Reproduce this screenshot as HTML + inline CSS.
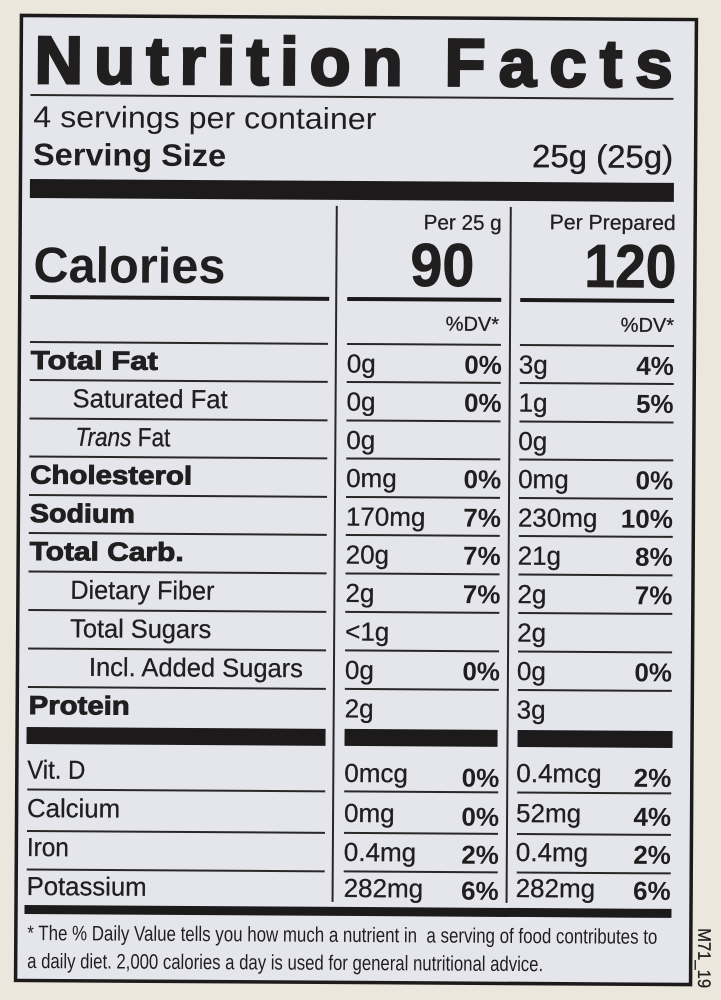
<!DOCTYPE html>
<html>
<head>
<meta charset="utf-8">
<style>
html,body{margin:0;padding:0;background:#ebe7dd;}
svg{display:block;}
text{font-family:"Liberation Sans",Arial,sans-serif;fill:#211e1f;}
.b{font-weight:bold;}
.hv{font-weight:bold;stroke:#211e1f;stroke-width:0.9;}
.v{font-size:26px;stroke:#211e1f;stroke-width:0.3;}
.p{font-size:26px;font-weight:bold;}
.l{font-size:26px;stroke:#211e1f;stroke-width:0.3;}
</style>
</head>
<body>
<svg width="721" height="1000" viewBox="0 0 721 1000" xmlns="http://www.w3.org/2000/svg">
<rect x="0" y="0" width="721" height="1000" fill="#ebe7dd"/>
<g transform="rotate(0.35 356 500)">
  <!-- label box -->
  <rect x="18.5" y="17.5" width="675" height="965" fill="#e5e5ec" stroke="#1c1a1b" stroke-width="3.5"/>

  <!-- title -->
  <text x="32" y="85" font-size="67" class="b" stroke="#211e1f" stroke-width="2.6" textLength="368" lengthAdjust="spacing">Nutrition</text>
  <text x="442" y="85" font-size="67" class="b" stroke="#211e1f" stroke-width="2.6" textLength="228" lengthAdjust="spacing">Facts</text>
  <rect x="28" y="96" width="643" height="2" fill="#2a2728"/>

  <text x="31" y="129" font-size="30" textLength="343" lengthAdjust="spacingAndGlyphs">4 servings per container</text>
  <text x="31" y="167" font-size="31" class="b" textLength="193" lengthAdjust="spacingAndGlyphs">Serving Size</text>
  <text x="530" y="166" font-size="32" stroke="#211e1f" stroke-width="0.4" textLength="141" lengthAdjust="spacingAndGlyphs">25g (25g)</text>

  <rect x="28" y="181" width="644" height="19" fill="#1c1a1b"/>

  <!-- vertical dividers -->
  <rect x="334" y="206" width="2" height="696" fill="#2a2728"/>
  <rect x="508" y="206" width="2" height="696" fill="#2a2728"/>

  <!-- calories -->
  <text x="32" y="284" font-size="50" class="b" textLength="192" lengthAdjust="spacingAndGlyphs">Calories</text>
  <text x="422" y="229" font-size="21" stroke="#211e1f" stroke-width="0.3" textLength="78" lengthAdjust="spacingAndGlyphs">Per 25 g</text>
  <text x="548" y="228" font-size="21" stroke="#211e1f" stroke-width="0.3" textLength="126" lengthAdjust="spacingAndGlyphs">Per Prepared</text>
  <text x="409" y="285.5" font-size="61" class="b" stroke="#211e1f" stroke-width="0.8" textLength="64" lengthAdjust="spacingAndGlyphs">90</text>
  <text x="583" y="285.5" font-size="61" class="b" stroke="#211e1f" stroke-width="0.8" textLength="92" lengthAdjust="spacingAndGlyphs">120</text>
  <rect x="29" y="297" width="299" height="4" fill="#1c1a1b"/>
  <rect x="346" y="297" width="154" height="4" fill="#1c1a1b"/>
  <rect x="519" y="297" width="154" height="4" fill="#1c1a1b"/>

  <text x="498" y="330" font-size="20" text-anchor="end" stroke="#211e1f" stroke-width="0.3">%DV*</text>
  <text x="673" y="330" font-size="20" text-anchor="end" stroke="#211e1f" stroke-width="0.3">%DV*</text>

  <!-- row lines -->
  <g fill="#2a2728">
    <rect x="29" y="343" width="298" height="2"/><rect x="346" y="343" width="154" height="2"/><rect x="519" y="343" width="154" height="2"/>
    <rect x="29" y="381" width="298" height="2"/><rect x="346" y="381" width="154" height="2"/><rect x="519" y="381" width="154" height="2"/>
    <rect x="29" y="419.5" width="298" height="2"/><rect x="346" y="419.5" width="154" height="2"/><rect x="519" y="419.5" width="154" height="2"/>
    <rect x="29" y="457.5" width="298" height="2"/><rect x="346" y="457.5" width="154" height="2"/><rect x="519" y="457.5" width="154" height="2"/>
    <rect x="29" y="496" width="298" height="2"/><rect x="346" y="496" width="154" height="2"/><rect x="519" y="496" width="154" height="2"/>
    <rect x="29" y="534" width="298" height="2"/><rect x="346" y="534" width="154" height="2"/><rect x="519" y="534" width="154" height="2"/>
    <rect x="29" y="572.5" width="298" height="2"/><rect x="346" y="572.5" width="154" height="2"/><rect x="519" y="572.5" width="154" height="2"/>
    <rect x="29" y="611" width="298" height="2"/><rect x="346" y="611" width="154" height="2"/><rect x="519" y="611" width="154" height="2"/>
    <rect x="29" y="649.5" width="298" height="2"/><rect x="346" y="649.5" width="154" height="2"/><rect x="519" y="649.5" width="154" height="2"/>
    <rect x="29" y="688" width="298" height="2"/><rect x="346" y="688" width="154" height="2"/><rect x="519" y="688" width="154" height="2"/>
    <rect x="29" y="790.5" width="298" height="2"/><rect x="346" y="790.5" width="154" height="2"/><rect x="519" y="790.5" width="154" height="2"/>
    <rect x="29" y="832" width="298" height="2"/><rect x="346" y="832" width="154" height="2"/><rect x="519" y="832" width="154" height="2"/>
    <rect x="29" y="870.5" width="298" height="2"/><rect x="346" y="870.5" width="154" height="2"/><rect x="519" y="870.5" width="154" height="2"/>
  </g>

  <!-- Total Fat -->
  <text x="30" y="371" font-size="26" class="hv" textLength="127" lengthAdjust="spacingAndGlyphs">Total Fat</text>
  <text x="346" y="372.5" class="v">0g</text>
  <text x="501" y="373" class="p" text-anchor="end">0%</text>
  <text x="518" y="372.5" class="v">3g</text>
  <text x="673" y="373" class="p" text-anchor="end">4%</text>

  <!-- Saturated Fat -->
  <text x="72" y="409" class="l" textLength="155" lengthAdjust="spacingAndGlyphs">Saturated Fat</text>
  <text x="346" y="410.5" class="v">0g</text>
  <text x="501" y="411" class="p" text-anchor="end">0%</text>
  <text x="518" y="410.5" class="v">1g</text>
  <text x="673" y="411" class="p" text-anchor="end">5%</text>

  <!-- Trans Fat -->
  <text x="75" y="447.5" class="l" textLength="95" lengthAdjust="spacingAndGlyphs"><tspan font-style="italic">Trans</tspan> Fat</text>
  <text x="346" y="449" class="v">0g</text>
  <text x="518" y="449" class="v">0g</text>

  <!-- Cholesterol -->
  <text x="30" y="485.5" font-size="26" class="hv" textLength="162" lengthAdjust="spacingAndGlyphs">Cholesterol</text>
  <text x="346" y="487" class="v">0mg</text>
  <text x="501" y="487.5" class="p" text-anchor="end">0%</text>
  <text x="518" y="487" class="v">0mg</text>
  <text x="673" y="487.5" class="p" text-anchor="end">0%</text>

  <!-- Sodium -->
  <text x="30" y="524" font-size="26" class="hv" textLength="105" lengthAdjust="spacingAndGlyphs">Sodium</text>
  <text x="346" y="525.5" class="v">170mg</text>
  <text x="501" y="526" class="p" text-anchor="end">7%</text>
  <text x="518" y="525.5" class="v">230mg</text>
  <text x="673" y="526" class="p" text-anchor="end">10%</text>

  <!-- Total Carb. -->
  <text x="30" y="562" font-size="26" class="hv" textLength="154" lengthAdjust="spacingAndGlyphs">Total Carb.</text>
  <text x="346" y="563.5" class="v">20g</text>
  <text x="501" y="564" class="p" text-anchor="end">7%</text>
  <text x="518" y="563.5" class="v">21g</text>
  <text x="673" y="564" class="p" text-anchor="end">8%</text>

  <!-- Dietary Fiber -->
  <text x="71" y="600.5" class="l" textLength="144" lengthAdjust="spacingAndGlyphs">Dietary Fiber</text>
  <text x="346" y="602" class="v">2g</text>
  <text x="501" y="602.5" class="p" text-anchor="end">7%</text>
  <text x="518" y="602" class="v">2g</text>
  <text x="673" y="602.5" class="p" text-anchor="end">7%</text>

  <!-- Total Sugars -->
  <text x="71" y="639" class="l" textLength="141" lengthAdjust="spacingAndGlyphs">Total Sugars</text>
  <text x="346" y="640.5" class="v">&lt;1g</text>
  <text x="518" y="640.5" class="v">2g</text>

  <!-- Incl. Added Sugars -->
  <text x="90" y="677.5" class="l" textLength="214" lengthAdjust="spacingAndGlyphs">Incl. Added Sugars</text>
  <text x="346" y="679" class="v">0g</text>
  <text x="501" y="679.5" class="p" text-anchor="end">0%</text>
  <text x="518" y="679" class="v">0g</text>
  <text x="673" y="679.5" class="p" text-anchor="end">0%</text>

  <!-- Protein -->
  <text x="30" y="716" font-size="26" class="hv" textLength="101" lengthAdjust="spacingAndGlyphs">Protein</text>
  <text x="346" y="717.5" class="v">2g</text>
  <text x="518" y="717.5" class="v">3g</text>

  <!-- thick bars -->
  <rect x="28" y="729" width="299" height="17" fill="#1c1a1b"/>
  <rect x="346" y="729" width="153" height="17" fill="#1c1a1b"/>
  <rect x="519" y="729" width="155" height="17" fill="#1c1a1b"/>

  <!-- Vit D -->
  <text x="29" y="780.5" class="l" textLength="58" lengthAdjust="spacingAndGlyphs">Vit. D</text>
  <text x="346" y="782" class="v">0mcg</text>
  <text x="501" y="786" class="p" text-anchor="end">0%</text>
  <text x="518" y="781" class="v">0.4mcg</text>
  <text x="673" y="785" class="p" text-anchor="end">2%</text>

  <!-- Calcium -->
  <text x="29" y="819" class="l" textLength="93" lengthAdjust="spacingAndGlyphs">Calcium</text>
  <text x="346" y="822" class="v">0mg</text>
  <text x="501" y="825" class="p" text-anchor="end">0%</text>
  <text x="518" y="821" class="v">52mg</text>
  <text x="673" y="824" class="p" text-anchor="end">4%</text>

  <!-- Iron -->
  <text x="29" y="858" class="l" textLength="42" lengthAdjust="spacingAndGlyphs">Iron</text>
  <text x="346" y="861" class="v">0.4mg</text>
  <text x="501" y="863" class="p" text-anchor="end">2%</text>
  <text x="518" y="860" class="v">0.4mg</text>
  <text x="673" y="862" class="p" text-anchor="end">2%</text>

  <!-- Potassium -->
  <text x="29" y="897" class="l" textLength="120" lengthAdjust="spacingAndGlyphs">Potassium</text>
  <text x="346" y="897" class="v">282mg</text>
  <text x="501" y="899" class="p" text-anchor="end">6%</text>
  <text x="518" y="896" class="v">282mg</text>
  <text x="673" y="898" class="p" text-anchor="end">6%</text>

  <!-- bottom bar -->
  <rect x="27" y="907" width="647" height="9" fill="#1c1a1b"/>

  <!-- footnote -->
  <text x="30" y="942" font-size="21" textLength="630" lengthAdjust="spacingAndGlyphs">* The % Daily Value tells you how much a nutrient in&#160; a serving of food contributes to</text>
  <text x="30" y="970" font-size="21" textLength="516" lengthAdjust="spacingAndGlyphs">a daily diet. 2,000 calories a day is used for general nutritional advice.</text>

  <!-- side code -->
  <text x="0" y="0" font-size="18" stroke="#211e1f" stroke-width="0.3" transform="translate(701 926) rotate(90)" textLength="60" lengthAdjust="spacingAndGlyphs">M71_19</text>
</g>
</svg>
</body>
</html>
